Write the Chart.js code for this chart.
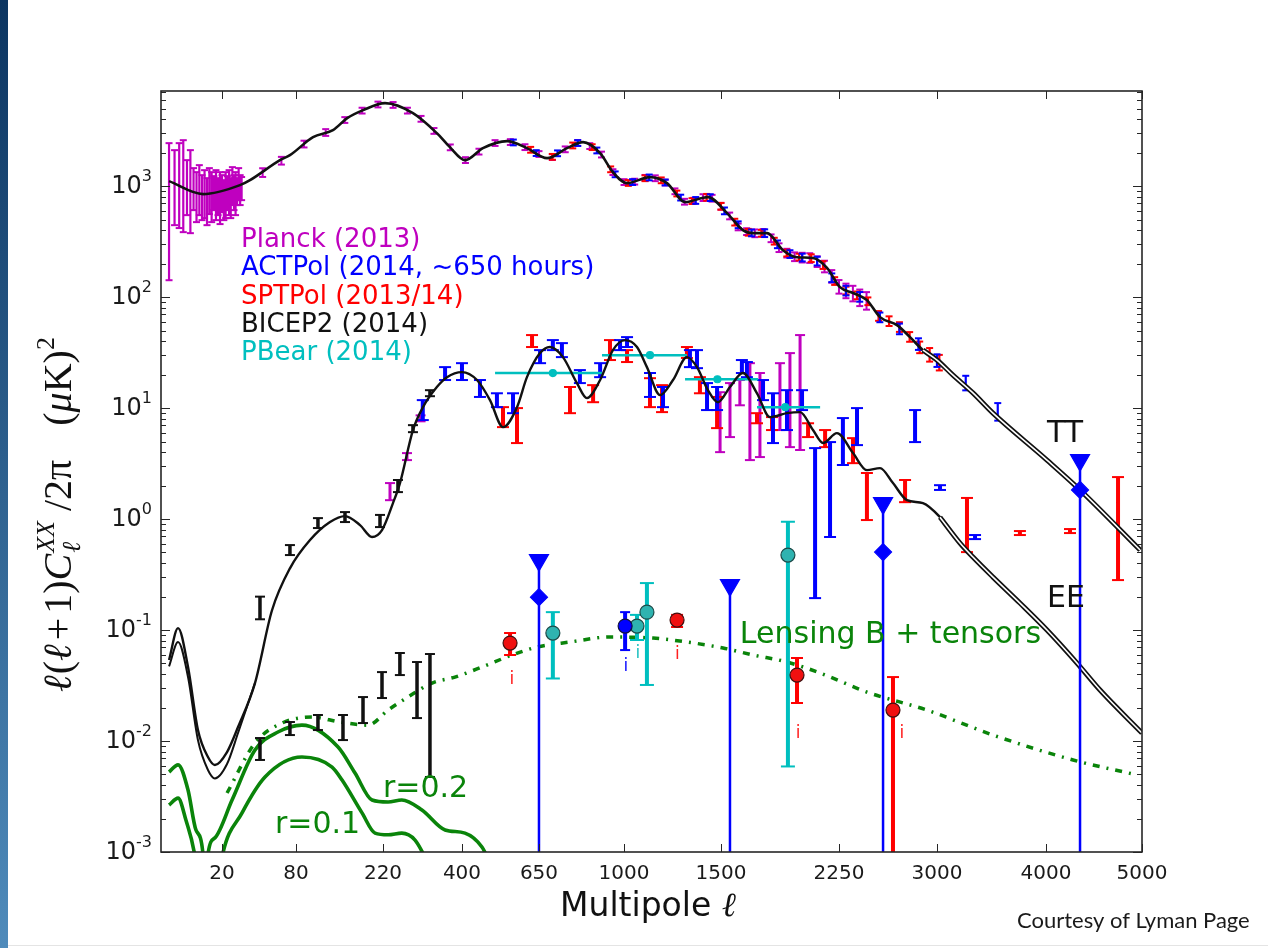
<!DOCTYPE html>
<html>
<head>
<meta charset="utf-8">
<title>CMB power spectra</title>
<script src="https://cdn.jsdelivr.net/npm/chart.js@4.4.1/dist/chart.umd.min.js"></script>
<style>
  body { margin: 0; background: #fff; }
  #page { position: relative; width: 1268px; height: 948px; overflow: hidden; background: #fff; }
  #edge { position: absolute; left: 0; top: 0; width: 8px; height: 948px; background: linear-gradient(#0c3561, #4f8bbb); }
  #foot { position: absolute; left: 8px; right: 0; top: 945px; height: 1px; background: #e4e4e4; }
  canvas { position: absolute; left: 0; top: 0; }
</style>
</head>
<body>
<div id="page">
  <canvas id="cmb" width="1268" height="948"></canvas>
  <div id="edge"></div>
  <div id="foot"></div>
</div>
<script>
// x axis of the original is a stretched sqrt(l) axis: anchor multipoles and where they sit (0-100 across the box)
const X_SCALE_L = [2, 20, 80, 220, 400, 650, 1000, 1500, 2250, 3000, 4000, 5000];
const X_SCALE_U = [0.82, 6.22, 13.76, 22.63, 30.68, 38.53, 47.20, 57.08, 69.11, 79.10, 90.21, 100];
const X_TICKS = [20, 80, 220, 400, 650, 1000, 1500, 2250, 3000, 4000, 5000];

// theory curves
const TT_L = [2, 11.4, 30.9, 38, 63.6, 73.6, 102, 131, 154, 182, 224, 282, 337, 369, 409, 462, 539, 607, 680, 757, 822, 894, 950, 1014, 1124, 1209, 1303, 1427, 1535, 1628, 1689, 1775, 1875, 1966, 2072, 2167, 2257, 2351, 2453, 2551, 2681, 2783, 2886, 3000, 3138, 3314, 3496, 4010, 4342, 4979];
const TT_V = [1109, 847, 1021, 1132, 1715, 1902, 2763, 3197, 4100, 4840, 5595, 4548, 3002, 2245, 1715, 2200, 2543, 2200, 1787, 2200, 2490, 1983, 1337, 1064, 1205, 1064, 718, 796, 571, 402, 377, 377, 265, 229, 225, 183, 123, 109, 94, 66, 56, 43.6, 33.3, 27.1, 19.8, 13.7, 9.0, 3.40, 1.83, 0.526];

const EE_L = [2, 3.74, 6.3, 9.5, 13.4, 16.5, 22.8, 29.6, 41.8, 56.1, 73.6, 97.9, 126.5, 150.3, 176.3, 198.5, 218, 239.8, 254.2, 282, 304.4, 337, 361.7, 400, 444, 484, 525.7, 572.5, 607, 653.7, 691, 741, 797, 838, 894, 950, 1005, 1061, 1109, 1174, 1240, 1313, 1367, 1427, 1483, 1552, 1628, 1713, 1793, 1901, 1986, 2072, 2140, 2236, 2351, 2453, 2551, 2650, 2759, 2886, 3026, 3199, 3314, 3496, 3748, 4010, 4311, 4549, 5000];
const EE_V = [0.0537, 0.104, 0.0464, 0.01256, 0.00718, 0.00608, 0.00796, 0.01337, 0.0333, 0.15, 0.36, 0.647, 0.94, 1.064, 0.883, 0.689, 0.796, 1.393, 2.11, 6.34, 10.2, 15.5, 19.0, 21.1, 17.9, 11.8, 6.74, 10.2, 19.0, 31.3, 35.5, 28.8, 16.8, 12.3, 17.9, 33.3, 41.0, 35.5, 23.4, 13.1, 17.9, 28.8, 23.4, 14.5, 11.3, 15.5, 20.7, 13.6, 8.3, 9.0, 9.2, 6.34, 4.84, 5.95, 3.93, 2.76, 2.88, 2.11, 1.48, 1.39, 1.04, 0.608, 0.455, 0.300, 0.175, 0.1, 0.0504, 0.0288, 0.0118];
const EE2_L = [2, 3.74, 6.3, 9.5, 13.4, 16.5, 22.8, 29.6, 41.8];
const EE2_V = [0.047, 0.078, 0.0377, 0.0102, 0.00548, 0.0046, 0.0062, 0.0118, 0.0333];

// B-modes: lensing + tensors, and the two tensor-only curves
const LT_L = [22.8, 41.8, 65.5, 100.6, 142, 191, 229.9, 271, 325.5, 381.8, 459, 555.6, 643, 769, 937, 1139, 1313, 1512, 1689, 1901, 2120, 2453, 2918, 3496, 4271, 4946];
const LT_V = [0.0034, 0.0096, 0.0145, 0.01644, 0.01483, 0.0139, 0.019, 0.0249, 0.0333, 0.0377, 0.0464, 0.0596, 0.0703, 0.078, 0.0865, 0.0846, 0.078, 0.0689, 0.0596, 0.0515, 0.041, 0.0276, 0.019, 0.01132, 0.00675, 0.00494];
const R02_L = [2, 3.74, 6.3, 8.8, 11.4, 12.4, 13.4, 16.5, 25.8, 41.8, 61.7, 87.4, 139, 167.4, 198.5, 229.9, 258, 302, 357, 408.6, 459, 484];
const R02_V = [0.00526, 0.0061, 0.00362, 0.00158, 0.00095, 0.0002, 0.00095, 0.00134, 0.00294, 0.0083, 0.01205, 0.0139, 0.00883, 0.00515, 0.00294, 0.00282, 0.00294, 0.00239, 0.00158, 0.00148, 0.00111, 0.0008];
const R01_L = [2, 3.74, 5.7, 8.5, 13, 20, 32.3, 50, 87.4, 129.6, 145.5, 179.9, 204.3, 230, 258, 286.6, 316];
const R01_V = [0.00265, 0.00306, 0.00194, 0.0009, 0.0001, 0.0009, 0.00225, 0.00474, 0.00718, 0.00583, 0.00445, 0.00225, 0.00148, 0.00143, 0.00148, 0.00128, 0.0008];

// Planck (2013)
const PL_LO_L = [2, 3, 4, 5, 6, 7, 8, 9, 10, 11, 12, 13, 14, 15, 16, 17, 18, 19, 20, 21, 22, 23, 24, 25, 26, 27, 28, 29, 30, 31, 32];
const PL_LO_HI = [2440, 2110, 2440, 2595, 1715, 2110, 1453, 1337, 1546, 1256, 1393, 1180, 1453, 1337, 1231, 1393, 1180, 1337, 1256, 1132, 1337, 1231, 1393, 1180, 1483, 1256, 1337, 1180, 1453, 1256, 1208];
const PL_LO_LO = [142, 445, 419, 385, 548, 377, 608, 474, 548, 494, 515, 445, 560, 474, 608, 494, 548, 455, 583, 494, 515, 608, 548, 515, 675, 608, 548, 675, 748, 675, 748];
const PL_TT_L = [48, 65, 90, 120, 150, 180, 210, 240, 270, 300, 330, 370, 410, 450, 500, 550, 600, 650, 700, 750, 800, 850, 900, 950, 1000, 1050, 1100, 1150, 1200, 1250, 1300, 1350, 1400, 1450, 1500, 1550, 1600, 1650, 1700, 1750, 1800, 1850, 1900, 1950, 2000, 2050, 2100, 2150, 2200, 2250, 2300, 2350, 2400, 2450];
const PL_TT_V = [1330, 1700, 2400, 3050, 3950, 4800, 5450, 5400, 4800, 4050, 3150, 2240, 1720, 2050, 2450, 2500, 2250, 1950, 1830, 2150, 2450, 2300, 1930, 1340, 1090, 1100, 1190, 1180, 1080, 900, 725, 740, 790, 780, 660, 540, 430, 390, 377, 380, 340, 280, 250, 232, 228, 226, 210, 190, 155, 125, 115, 109, 100, 94];
const PL_TT_E = [0.09, 0.08, 0.07, 0.07, 0.06, 0.06, 0.06, 0.06, 0.06, 0.06, 0.06, 0.06, 0.06, 0.06, 0.06, 0.06, 0.06, 0.06, 0.06, 0.06, 0.06, 0.06, 0.06, 0.06, 0.06, 0.06, 0.06, 0.06, 0.06, 0.06, 0.06, 0.06, 0.07, 0.07, 0.07, 0.07, 0.07, 0.07, 0.08, 0.08, 0.08, 0.09, 0.09, 0.09, 0.1, 0.1, 0.11, 0.12, 0.13, 0.14, 0.15, 0.16, 0.17, 0.18];
const PL_EE_L = [233.8, 269, 299, 1495, 1552, 1610, 1670, 1731, 1856, 1920, 1986];
const PL_EE_HI = [2.11, 3.93, 8.6, 13.9, 16.8, 17.9, 25.4, 20.7, 25.4, 31.3, 45.5];
const PL_EE_LO = [1.48, 3.40, 7.6, 4.01, 5.48, 10.6, 3.40, 3.62, 6.34, 4.45, 4.19];

// ACTPol (2014)
const ACT_TT_L = [560, 640, 720, 800, 880, 960, 1040, 1120, 1200, 1280, 1360, 1440, 1520, 1600, 1680, 1760, 1840, 1920, 2000, 2100, 2200, 2300, 2400, 2550, 2700, 2850, 3000, 3250, 3540];
const ACT_TT_V = [2480, 1990, 1980, 2450, 2100, 1280, 1090, 1200, 1080, 790, 745, 790, 600, 450, 380, 378, 300, 245, 228, 212, 150, 115, 101, 66, 52, 38, 27, 17, 9.4];
const ACT_TT_E = [0.06, 0.06, 0.06, 0.06, 0.06, 0.06, 0.06, 0.06, 0.06, 0.06, 0.07, 0.07, 0.07, 0.07, 0.07, 0.08, 0.08, 0.08, 0.08, 0.09, 0.09, 0.1, 0.1, 0.1, 0.11, 0.12, 0.13, 0.15, 0.18];
const ACT_EE_L = [304, 357, 400, 453, 506, 559, 654, 702, 737, 809, 894, 982, 1014, 1124, 1189, 1329, 1367, 1422, 1478, 1622, 1652, 1750, 1812, 1901, 1999, 2086, 2188, 2278, 2380, 2823, 3026, 3333];
const ACT_EE_HI = [11.8, 23.4, 25.4, 17.9, 13.6, 13.6, 33.3, 41.0, 38.5, 22.0, 25.4, 41.0, 43.6, 20.7, 15.5, 33.3, 33.3, 16.8, 15.5, 27.1, 26.0, 17.9, 13.6, 14.5, 14.5, 4.36, 4.94, 8.13, 10.0, 9.6, 2.02, 0.718];
const ACT_EE_LO = [7.8, 17.9, 17.9, 12.6, 10.2, 9.0, 25.4, 33.3, 28.8, 16.8, 19.0, 33.3, 35.5, 12.6, 10.2, 23.4, 22.9, 9.6, 9.6, 20.7, 19.0, 11.8, 4.84, 6.34, 9.6, 0.194, 0.689, 3.07, 4.64, 4.94, 1.83, 0.66];
const ACT_BB_L = [1005];
const ACT_BB_V = [0.1086];
const ACT_BB_HI = [0.145];
const ACT_BB_LO = [0.066];
const ACT_LIM_L = [650, 1552, 2574, 4342];
const ACT_LIM_V = [0.427, 0.254, 1.39, 3.40];
const ACT_DIA_L = [650, 2574, 4342];
const ACT_DIA_V = [0.198, 0.504, 1.83];

// SPTPol (2013/14)
const SPT_TT_L = [620, 700, 780, 860, 940, 1020, 1100, 1180, 1260, 1340, 1420, 1500, 1580, 1660, 1740, 1820, 1900, 1980, 2060, 2140, 2220, 2300, 2380, 2460, 2540, 2620, 2700, 2780, 2860, 2940, 3020];
const SPT_TT_V = [2130, 1840, 2330, 2250, 1420, 1070, 1180, 1130, 860, 735, 795, 660, 475, 385, 377, 320, 250, 230, 225, 195, 140, 115, 104, 92, 68, 61, 54, 44, 35.5, 30.5, 26];
const SPT_TT_E = [0.06, 0.06, 0.06, 0.06, 0.06, 0.06, 0.06, 0.06, 0.06, 0.06, 0.07, 0.07, 0.07, 0.07, 0.07, 0.07, 0.07, 0.07, 0.08, 0.08, 0.08, 0.08, 0.08, 0.08, 0.1, 0.1, 0.1, 0.1, 0.12, 0.14, 0.16];
const SPT_EE_L = [525.7, 572.5, 625, 769, 864, 937, 1014, 1124, 1184, 1313, 1383, 1478, 1713, 1806, 2039, 2154, 2351, 2453, 2744, 3261, 3748, 4240, 4740];
const SPT_EE_HI = [10.2, 10.0, 45.5, 15.5, 16.1, 41.0, 33.3, 18.6, 16.1, 35.5, 19.0, 12.6, 9.0, 8.3, 7.3, 6.34, 5.36, 2.60, 2.25, 1.55, 0.78, 0.813, 2.39];
const SPT_EE_LO = [6.74, 4.84, 35.5, 9.0, 11.3, 27.1, 26.0, 10.2, 9.2, 28.3, 13.6, 6.6, 7.3, 6.34, 5.48, 4.45, 3.19, 0.98, 1.42, 0.504, 0.718, 0.748, 0.282];
const SPT_BB_L = [549, 1261, 1966, 2650];
const SPT_BB_V = [0.0763, 0.123, 0.0393, 0.019];
const SPT_BB_HI = [0.094, 0.137, 0.056, 0.0377];
const SPT_BB_LO = [0.0596, 0.1065, 0.022, 0.0002];

// BICEP2 (2014)
const BK_EE_L = [45.8, 73.6, 108.8, 150.3, 214, 250, 282, 320.6];
const BK_EE_HI = [0.2, 0.583, 1.02, 1.156, 1.09, 2.25, 7.02, 14.5];
const BK_EE_LO = [0.125, 0.474, 0.83, 0.94, 0.847, 1.75, 6.07, 12.8];
const BK_BB_L = [45.8, 73.6, 108.8, 147, 181.7, 218, 254, 291, 320.6];
const BK_BB_HI = [0.01064, 0.01483, 0.01715, 0.01715, 0.0249, 0.0418, 0.0621, 0.0515, 0.0608];
const BK_BB_LO = [0.00675, 0.01132, 0.01256, 0.0102, 0.01452, 0.0244, 0.0393, 0.0161, 0.00474];

// PolarBear (2014)
const PB_EE_L0 = [500, 902, 1303, 1713];
const PB_EE_L1 = [902, 1313, 1720, 2120];
const PB_EE_C = [702, 1124, 1480, 1890];
const PB_EE_V = [20.7, 30.0, 18.2, 10.2];
const PB_BB_L = [702, 1061, 1109, 1907];
const PB_BB_V = [0.094, 0.1086, 0.145, 0.474];
const PB_BB_HI = [0.145, 0.137, 0.265, 0.946];
const PB_BB_LO = [0.0366, 0.0813, 0.032, 0.0059];

// little "i" marks under some B-mode points
const I_MARKS = [
  { l: 555, v: 0.0355, c: '#ff2020' }, { l: 1262, v: 0.0596, c: '#ff2020' },
  { l: 1974, v: 0.01173, c: '#ff2020' }, { l: 2718, v: 0.01173, c: '#ff2020' },
  { l: 1009, v: 0.0467, c: '#1010ff' }, { l: 1065, v: 0.0617, c: '#20c0c0' }
];

const PURPLE = '#bf00bf', BLUE = '#0000ff', RED = '#ff0000', CYAN = '#00bfbf', GREEN = '#0a840a';

function lpos(l) {
  const s = Math.sqrt(l);
  let i = 0;
  while (i < X_SCALE_L.length - 2 && s > Math.sqrt(X_SCALE_L[i + 1])) i++;
  const s0 = Math.sqrt(X_SCALE_L[i]), s1 = Math.sqrt(X_SCALE_L[i + 1]);
  return X_SCALE_U[i] + (s - s0) / (s1 - s0) * (X_SCALE_U[i + 1] - X_SCALE_U[i]);
}
function curve(L, V) { return L.map((l, i) => ({ x: lpos(l), y: V[i] })); }
function errBars(L, lo, hi) {
  const out = [];
  L.forEach((l, i) => {
    const u = lpos(l);
    out.push({ x: u, y: lo[i] }, { x: u, y: hi[i] }, { x: u, y: null });
  });
  return out;
}
function fracBars(L, V, E) {
  return errBars(L, V.map((v, i) => v * (1 - E[i])), V.map((v, i) => v * (1 + E[i])));
}
function hBars(L0, L1, V) {
  const out = [];
  V.forEach((v, i) => out.push({ x: lpos(L0[i]), y: v }, { x: lpos(L1[i]), y: v }, { x: lpos(L1[i]), y: null }));
  return out;
}
function barSet(data, color, width, cap, order) {
  return { data, showLine: true, spanGaps: false, borderColor: color, borderWidth: width,
           pointStyle: 'line', pointRadius: cap, pointBorderColor: color, pointBorderWidth: Math.min(width, 2), order };
}
function lineSet(data, color, width, order, extra) {
  return Object.assign({ data, showLine: true, borderColor: color, borderWidth: width, pointRadius: 0,
                         cubicInterpolationMode: 'monotone', order }, extra || {});
}
function markSet(data, style, radius, fill, edge, order, extra) {
  return Object.assign({ data, showLine: false, pointStyle: style, pointRadius: radius, pointBackgroundColor: fill,
                         pointBorderColor: edge, pointBorderWidth: 1.2, order }, extra || {});
}

const ttHigh = curve(TT_L.filter(l => l >= 2800), TT_V.filter((v, i) => TT_L[i] >= 2800));
const eeHigh = curve(EE_L.filter(l => l >= 3000), EE_V.filter((v, i) => EE_L[i] >= 3000));

const datasets = [
  // B-mode markers on top
  markSet(curve(ACT_LIM_L, ACT_LIM_V), 'triangle', 11, BLUE, BLUE, 0, { rotation: 180 }),
  markSet(curve(ACT_DIA_L, ACT_DIA_V), 'rectRot', 8.5, BLUE, BLUE, 0),
  markSet(curve(ACT_BB_L, ACT_BB_V), 'circle', 7, BLUE, '#101040', 0),
  markSet(curve(SPT_BB_L, SPT_BB_V), 'circle', 7, '#f01010', '#401010', 0),
  markSet(curve(PB_BB_L, PB_BB_V), 'circle', 7, '#2fb3b0', '#1d4a48', 0),
  barSet(errBars(ACT_LIM_L, ACT_LIM_L.map(() => 0.0002), ACT_LIM_V), BLUE, 2.5, 0, 1),
  barSet(errBars(ACT_BB_L, ACT_BB_LO, ACT_BB_HI), BLUE, 4, 5, 1),
  barSet(errBars(SPT_BB_L, SPT_BB_LO, SPT_BB_HI), RED, 4, 6, 1),
  barSet(errBars(PB_BB_L, PB_BB_LO, PB_BB_HI), CYAN, 4, 7, 1),
  barSet(errBars(BK_BB_L, BK_BB_LO, BK_BB_HI), '#111', 3.5, 5, 1),
  // theory curves
  lineSet(ttHigh, '#fff', 1.6, 2),
  lineSet(eeHigh, '#fff', 1.6, 2),
  lineSet(ttHigh, '#111', 5, 3),
  lineSet(eeHigh, '#111', 5, 3),
  lineSet(curve(TT_L, TT_V), '#111', 2.6, 4),
  lineSet(curve(EE_L, EE_V), '#111', 2.4, 4),
  lineSet(curve(EE2_L, EE2_V), '#111', 2, 4),
  // TT / EE data
  barSet(hBars(PB_EE_L0, PB_EE_L1, PB_EE_V), CYAN, 2.5, 0, 5),
  markSet(curve(PB_EE_C, PB_EE_V), 'circle', 3.5, CYAN, CYAN, 5),
  barSet(errBars(BK_EE_L, BK_EE_LO, BK_EE_HI), '#111', 3.5, 5, 6),
  barSet(errBars(ACT_EE_L, ACT_EE_LO, ACT_EE_HI), BLUE, 4, 6, 6),
  barSet(errBars(SPT_EE_L, SPT_EE_LO, SPT_EE_HI), RED, 4, 6, 6),
  barSet(errBars(PL_EE_L, PL_EE_LO, PL_EE_HI), PURPLE, 3, 5, 6),
  barSet(fracBars(ACT_TT_L, ACT_TT_V, ACT_TT_E), BLUE, 2.2, 3.5, 7),
  barSet(fracBars(SPT_TT_L, SPT_TT_V, SPT_TT_E), RED, 2.2, 3.5, 7),
  barSet(fracBars(PL_TT_L, PL_TT_V, PL_TT_E), PURPLE, 2, 3.5, 7),
  barSet(errBars(PL_LO_L, PL_LO_LO, PL_LO_HI), PURPLE, 2.2, 3.5, 7),
  // B-mode theory
  lineSet(curve(LT_L, LT_V), GREEN, 3.5, 8, { borderDash: [7, 7, 2, 7] }),
  lineSet(curve(R02_L, R02_V), GREEN, 3.6, 8),
  lineSet(curve(R01_L, R01_V), GREEN, 3.6, 8)
];

function drawRuns(ctx, runs, x, y) {
  runs.forEach(r => {
    if (r.stack) {
      let w = 0;
      r.stack.forEach(s => { ctx.font = s.f; ctx.fillText(s.t, x, y + s.dy); w = Math.max(w, ctx.measureText(s.t).width); });
      x += w;
    } else {
      ctx.font = r.f; ctx.fillText(r.t, x, y + (r.dy || 0)); x += ctx.measureText(r.t).width + (r.gap || 0);
    }
  });
}

const frame = {
  id: 'frame',
  afterDatasetsDraw(chart) {
    const { ctx, chartArea: a } = chart;
    const xs = chart.scales.x, ys = chart.scales.y;
    const px = l => xs.getPixelForValue(lpos(l));
    const py = v => ys.getPixelForValue(v);
    const seg = (x1, y1, x2, y2) => { ctx.beginPath(); ctx.moveTo(x1, y1); ctx.lineTo(x2, y2); ctx.stroke(); };
    ctx.save();
    ctx.strokeStyle = '#262626';
    ctx.lineWidth = 1;
    X_TICKS.forEach(l => {
      const x = Math.round(px(l)) + 0.5;
      seg(x, a.bottom, x, a.bottom - 8);
      seg(x, a.top, x, a.top + 8);
    });
    for (let k = -3; k <= 3; k++) {
      for (let m = 1; m <= 9; m++) {
        const v = m * Math.pow(10, k);
        if (v > ys.max) break;
        const y = Math.round(py(v)) + 0.5, len = m === 1 ? 9 : 5;
        seg(a.left, y, a.left + len, y);
        seg(a.right, y, a.right - len, y);
      }
    }
    ctx.lineWidth = 1.6;
    ctx.strokeRect(a.left, a.top, a.right - a.left, a.bottom - a.top);

    // y tick labels 10^k
    ctx.fillStyle = '#1a1a1a';
    ctx.textBaseline = 'middle';
    for (let k = -3; k <= 3; k++) {
      const y = py(Math.pow(10, k)), e = String(k);
      ctx.font = '16px "DejaVu Sans"';
      const ew = ctx.measureText(e).width;
      ctx.fillText(e, a.left - 9 - ew, y - 9);
      ctx.font = '24px "DejaVu Sans"';
      const bw = ctx.measureText('10').width;
      ctx.fillText('10', a.left - 9 - ew - bw, y + 1);
    }

    // in-plot legend text
    ctx.textBaseline = 'alphabetic';
    ctx.font = '26px "DejaVu Sans"';
    const lx = px(31.6), ly = py(282);
    [['Planck (2013)', PURPLE], ['ACTPol (2014, ~650 hours)', BLUE], ['SPTPol (2013/14)', RED],
     ['BICEP2 (2014)', '#111'], ['PBear (2014)', CYAN]].forEach((t, i) => {
      ctx.fillStyle = t[1];
      ctx.fillText(t[0], lx, ly + i * 28.2);
    });

    ctx.fillStyle = '#111';
    ctx.font = '30px "DejaVu Sans"';
    ctx.fillText('TT', px(4010), py(4.94));
    ctx.fillText('EE', px(4010), py(0.161));
    ctx.fillStyle = GREEN;
    ctx.fillText('Lensing B + tensors', px(1610), py(0.0763));
    ctx.fillText('r=0.2', px(220), py(0.00313));
    ctx.fillText('r=0.1', px(58.9), py(0.00148));

    ctx.textAlign = 'center';
    ctx.textBaseline = 'middle';
    ctx.font = '17px "DejaVu Sans"';
    I_MARKS.forEach(m => { ctx.fillStyle = m.c; ctx.fillText('i', px(m.l), py(m.v)); });

    // x title
    ctx.textAlign = 'left';
    ctx.textBaseline = 'alphabetic';
    ctx.fillStyle = '#111';
    drawRuns(ctx, [{ t: 'Multipole ', f: '33px "DejaVu Sans"' }, { t: 'ℓ', f: 'italic 34px "DejaVu Serif"' }], 560, 916);

    // y title, rotated, reading bottom to top from the lower end
    const F = s => s + 'px "Liberation Serif"', FI = s => 'italic ' + s + 'px "Liberation Serif"';
    const yt = [
      { t: 'ℓ', f: FI(40), gap: 1 }, { t: '(', f: F(40) }, { t: 'ℓ', f: FI(40), gap: 4 }, { t: '+', f: F(40), gap: 4 }, { t: '1)', f: F(40) },
      { t: 'C', f: FI(40), gap: 1 },
      { stack: [{ t: 'XX', f: FI(26), dy: -17 }, { t: 'ℓ', f: FI(26), dy: 9 }] },
      { t: ' /2', f: F(40) }, { t: 'π', f: F(40), gap: 34 }, { t: '(', f: F(40) }, { t: 'μ', f: FI(40) }, { t: 'K)', f: F(40) },
      { stack: [{ t: '2', f: F(26), dy: -17 }] }
    ];
    ctx.save();
    ctx.translate(71, 692);
    ctx.rotate(-Math.PI / 2);
    drawRuns(ctx, yt, 0, 0);
    ctx.restore();

    // credit
    ctx.fillStyle = '#1a1a1a';
    ctx.font = '22px Lato';
    ctx.fillText('Courtesy of Lyman Page', 1017, 928);
    ctx.restore();
  }
};

new Chart(document.getElementById('cmb'), {
  type: 'scatter',
  data: { datasets },
  options: {
    responsive: false,
    animation: false,
    devicePixelRatio: 1,
    events: [],
    layout: { padding: { left: 0, right: 126, top: 91, bottom: 0 } },
    plugins: { legend: { display: false }, tooltip: { enabled: false } },
    scales: {
      x: {
        type: 'linear', min: 0, max: 100,
        grid: { display: false }, border: { display: false },
        afterBuildTicks: s => { s.ticks = X_TICKS.map(l => ({ value: lpos(l) })); },
        afterFit: s => { s.height = 96; },
        ticks: { autoSkip: false, maxRotation: 0, padding: 2, color: '#1a1a1a',
                 font: { family: 'DejaVu Sans', size: 20 }, callback: (v, i) => String(X_TICKS[i]) }
      },
      y: {
        type: 'logarithmic', min: 0.001, max: 7200,
        grid: { display: false }, border: { display: false },
        ticks: { display: false },
        afterFit: s => { s.width = 161; }
      }
    }
  },
  plugins: [frame]
});
</script>
</body>
</html>
